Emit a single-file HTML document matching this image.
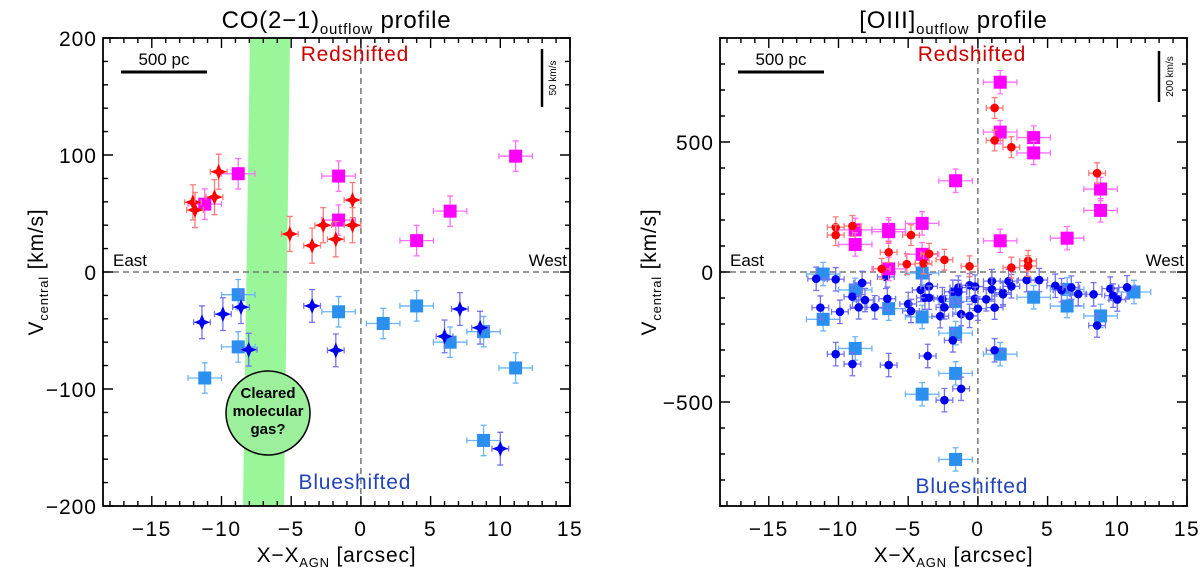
<!DOCTYPE html>
<html><head><meta charset="utf-8"><style>
html,body{margin:0;padding:0;background:#fff;}
svg{display:block;font-family:"Liberation Sans",sans-serif;}
</style></head><body>
<svg id="fig" width="1200" height="571" viewBox="0 0 1200 571" xmlns="http://www.w3.org/2000/svg">
<g id="left"></g>
<g id="right"></g>
</svg>
<script>
// ---- CO(2-1) panel data ----
const coRedX = [-12.05,-11.9,-10.5,-10.2,-5.1,-3.5,-2.7,-1.8,-0.6,-0.6];
const coRedY = [59.6,53,64,85.7,32.5,22.5,40,28,61.5,40];
const coMagX = [-11.2,-8.8,-1.6,-1.6,4.0,6.4,11.1];
const coMagY = [58,84,82,44.4,26.8,52,99];
const coLbX = [-8.8,-1.6,1.6,4.0,6.4,8.8,-8.8,-11.2,11.1,8.8];
const coLbY = [-19.4,-34,-44,-29,-60,-51,-64,-90.6,-82,-144];
const coDbX = [-11.4,-9.9,-8.6,-8.05,-3.5,-1.8,6.0,7.1,8.55,10.0];
const coDbY = [-43,-36,-30,-66.4,-29,-67,-55,-31.6,-47.6,-151];
const coYTicks = [-200,-100,0,100,200];
// ---- [OIII] panel data ----
const oMagX = [1.6,1.6,4.0,4.0,-1.6,8.8,8.8,6.4,1.6,-8.8,-8.8,-6.4,-6.4,-4.0,-4.0,-6.4];
const oMagY = [730,538,517,458,351,319,237,130,120,162,106,164,155,187,68,12];
const oRedX = [1.2,1.2,2.4,8.55,-10.2,-10.2,-9.0,-4.8,-6.4,-6.9,-5.1,-3.9,-3.5,-2.4,-0.6,2.4,3.6,3.6];
const oRedY = [631,506,480,380,172,142,177,142,76,12,30,33,70,47,22,17,43,23];
const oLbX = [-11.1,-11.1,-8.8,-8.8,-6.4,-4.0,-4.0,-4.0,-1.6,-1.6,-1.6,-1.6,1.6,4.0,6.4,6.4,8.8,11.2];
const oLbY = [-8,-182,-69,-294,-141,-4,-173,-470,-113,-235,-390,-721,-316,-97,-67,-131,-169,-77];
const oDbX = [-11.6,-11.3,-10.2,-9.9,-10.2,-9.0,-9.0,-8.55,-8.3,-8.1,-7.4,-6.6,-6.5,-6.4,-5.0,-4.8,-4.1,-3.8,-3.5,-3.5,-3.6,-2.7,-2.55,-2.4,-2.4,-1.8,-1.8,-1.4,-1.4,-1.2,-1.2,-0.6,-0.6,-0.2,-0.2,0,0.6,1.0,1.0,1.2,1.2,1.8,1.8,2.2,2.4,3.5,4.4,5.55,6.0,6.7,7.2,8.3,8.55,9.5,9.7,10.0,10.7];
const oDbY = [-26,-137,-28,-153,-316,-95,-354,-136,-42,-108,-136,-19,-103,-358,-123,-150,-69,-99,-55,-99,-323,-170,-104,-136,-493,-76,-263,-60,-77,-162,-449,-51,-169,-56,-103,-141,-105,-35,-67,-137,-301,-80,-86,-35,-55,-31,-31,-53,-70,-60,-85,-86,-206,-64,-91,-106,-59];
const oYTicks = [-500,0,500];
const xTicks = [-15,-10,-5,0,5,10,15];

const NS="http://www.w3.org/2000/svg";
function mk(parent,tag,attrs,text){const e=document.createElementNS(NS,tag);for(const k in attrs)e.setAttribute(k,attrs[k]);if(text!==undefined)e.textContent=text;parent.appendChild(e);return e;}

function panel(g,P){
  const L=P.left,R=P.right,T=38,B=506;
  const sx=v=>L+(v-(-18.5))/(33.5)*(R-L);
  const sy=v=>B-(v-P.ymin)/(P.ymax-P.ymin)*(B-T);
  if(P.band){
    const band=mk(g,'polygon',{points:`${250},${T} ${290},${T} ${284},${B} ${243},${B}`,fill:'#99f799'});
    
    
  }
  const zl=mk(g,'line',{x1:L,x2:R,y1:sy(0),y2:sy(0),stroke:'#777','stroke-width':1.5,'stroke-dasharray':'6,4'});
  
  
  const zv=mk(g,'line',{x1:sx(0),x2:sx(0),y1:T,y2:B,stroke:'#777','stroke-width':1.5,'stroke-dasharray':'6,4'});
  
  
  if(P.band){
    const c=mk(g,'circle',{cx:268,cy:413,r:42,fill:'#9cf09c',stroke:'#000','stroke-width':1.5});
    
    
    ['Cleared','molecular','gas?'].forEach((s,i)=>{
      const t=mk(g,'text',{x:268,y:398+i*18,'text-anchor':'middle','font-size':15,'font-weight':'bold',fill:'#000'},s);
      
      
    });
  }
  P.series.forEach(S=>{
    const sg=mk(g,'g',{});
    
    
    S.x.forEach((xv,i)=>{
      const cx=sx(xv),cy=sy(S.y[i]);
      const ex=S.ex*(R-L)/33.5, ey=S.ey*(B-T)/(P.ymax-P.ymin);
      mk(sg,'path',{d:`M${cx-ex},${cy}H${cx+ex}M${cx-ex},${cy-3}v6M${cx+ex},${cy-3}v6M${cx},${cy-ey}V${cy+ey}M${cx-3},${cy-ey}h6M${cx-3},${cy+ey}h6`,stroke:S.ecol,'stroke-width':1.3,fill:'none'});
      let m;
      if(S.shape==='sq') m=mk(sg,'rect',{x:cx-6.5,y:cy-6.5,width:13,height:13,fill:S.col});
      else if(S.shape==='star'){const a=8,b=2.4;m=mk(sg,'path',{d:`M${cx},${cy-a}L${cx+b},${cy-b}L${cx+a},${cy}L${cx+b},${cy+b}L${cx},${cy+a}L${cx-b},${cy+b}L${cx-a},${cy}L${cx-b},${cy-b}Z`,fill:S.col});}
      else m=mk(sg,'circle',{cx:cx,cy:cy,r:4.3,fill:S.col});
      
      
    });
  });
  const fr=mk(g,'rect',{x:L,y:T,width:R-L,height:B-T,fill:'none',stroke:'#000','stroke-width':1.8});
  
  
  let d='';
  for(let v=-18;v<=15;v++){const X=sx(v),len=(v%5===0)?10:5;d+=`M${X},${B}v${-len}M${X},${T}v${len}`;}
  for(let v=P.ymin;v<=P.ymax+1e-6;v+=P.minor){const Y=sy(v),len=(Math.abs(v)%P.major===0)?10:5;d+=`M${L},${Y}h${len}M${R},${Y}h${-len}`;}
  const tk=mk(g,'path',{d:d,stroke:'#000','stroke-width':1.4,fill:'none'});
  
  
  xTicks.forEach(v=>{const t=mk(g,'text',{x:sx(v),y:536,'text-anchor':'middle','font-size':21,'letter-spacing':'1.5'},(v<0?'\u2212':'')+Math.abs(v));
    
    });
  P.yt.forEach(v=>{const t=mk(g,'text',{x:L-6,y:sy(v)+8,'text-anchor':'end','font-size':21,'letter-spacing':'1'},(v<0?'\u2212':'')+Math.abs(v));
    
    });
  const xl=mk(g,'text',{x:(L+R)/2,y:562,'text-anchor':'middle','font-size':21,'letter-spacing':'0.8'});
  xl.innerHTML='X\u2212X<tspan font-size="13" dy="5">AGN</tspan><tspan dy="-5"> [arcsec]</tspan>';
  
  
  const yl=mk(g,'text',{x:0,y:0,'text-anchor':'middle','font-size':21,'letter-spacing':'0.8',transform:`translate(${L-P.ylOff},${(T+B)/2}) rotate(-90)`});
  yl.innerHTML='V<tspan font-size="13" dy="5">central</tspan><tspan dy="-5"> [km/s]</tspan>';
  
  
  const tt=mk(g,'text',{x:(L+R)/2,y:28,'text-anchor':'middle','font-size':24,'letter-spacing':'0.8'});
  tt.innerHTML=P.title+'<tspan font-size="15" dy="6">outflow</tspan><tspan dy="-6"> profile</tspan>';
  
  
  const rs=mk(g,'text',{x:sx(0)-6,y:61,'text-anchor':'middle','font-size':21,'letter-spacing':'0.8',fill:'#cc0000'},'Redshifted');
  
  
  const bs=mk(g,'text',{x:sx(0)-6,y:P.blueY,'text-anchor':'middle','font-size':21,'letter-spacing':'0.8',fill:'#2244bb'},'Blueshifted');
  
  
  const ea=mk(g,'text',{x:L+10,y:266,'font-size':17},'East');
  
  
  const we=mk(g,'text',{x:R-3,y:266,'text-anchor':'end','font-size':17},'West');
  
  
  const sb=mk(g,'line',{x1:L+18,x2:L+104,y1:72,y2:72,stroke:'#000','stroke-width':3});
  
  
  const st=mk(g,'text',{x:L+61,y:65,'text-anchor':'middle','font-size':17},'500  pc');
  
  
  const vb=mk(g,'line',{x1:R-28,x2:R-28,y1:P.vb[0],y2:P.vb[1],stroke:'#000','stroke-width':2.5});
  
  
  const vt=mk(g,'text',{x:0,y:0,'text-anchor':'middle','font-size':10,transform:`translate(${R-14},${(P.vb[0]+P.vb[1])/2}) rotate(-90)`},P.vlabel);
  
  
}

panel(document.getElementById('left'),{left:103,right:570,ymin:-200,ymax:200,major:100,minor:20,yt:coYTicks,
  title:'CO(2\u22121)',band:true,blueY:489,ylOff:60,vb:[49,107],vlabel:'50 km/s',
  series:[
    {name:'co-blue-square',x:coLbX,y:coLbY,shape:'sq',col:'#2b8ff0',ecol:'#6cb4f7',ex:1.2,ey:13},
    {name:'co-darkblue-star',x:coDbX,y:coDbY,shape:'star',col:'#0000ee',ecol:'#7474f0',ex:0.6,ey:14},
    {name:'co-magenta-square',x:coMagX,y:coMagY,shape:'sq',col:'#ff00ff',ecol:'#ff70ff',ex:1.2,ey:13},
    {name:'co-red-star',x:coRedX,y:coRedY,shape:'star',col:'#ff0000',ecol:'#ff7a7a',ex:0.6,ey:15}
  ]});
panel(document.getElementById('right'),{left:720,right:1187,ymin:-900,ymax:900,major:500,minor:100,yt:oYTicks,
  title:'[OIII]',band:false,blueY:493,ylOff:64,vb:[51,102],vlabel:'200 km/s',
  series:[
    {name:'oiii-blue-square',x:oLbX,y:oLbY,shape:'sq',col:'#2b8ff0',ecol:'#6cb4f7',ex:1.2,ey:45},
    {name:'oiii-darkblue-dot',x:oDbX,y:oDbY,shape:'dot',col:'#0000ee',ecol:'#7474f0',ex:0.6,ey:45},
    {name:'oiii-magenta-square',x:oMagX,y:oMagY,shape:'sq',col:'#ff00ff',ecol:'#ff70ff',ex:1.2,ey:45},
    {name:'oiii-red-dot',x:oRedX,y:oRedY,shape:'dot',col:'#ff0000',ecol:'#ff7a7a',ex:0.6,ey:40}
  ]});
</script>
</body></html>
